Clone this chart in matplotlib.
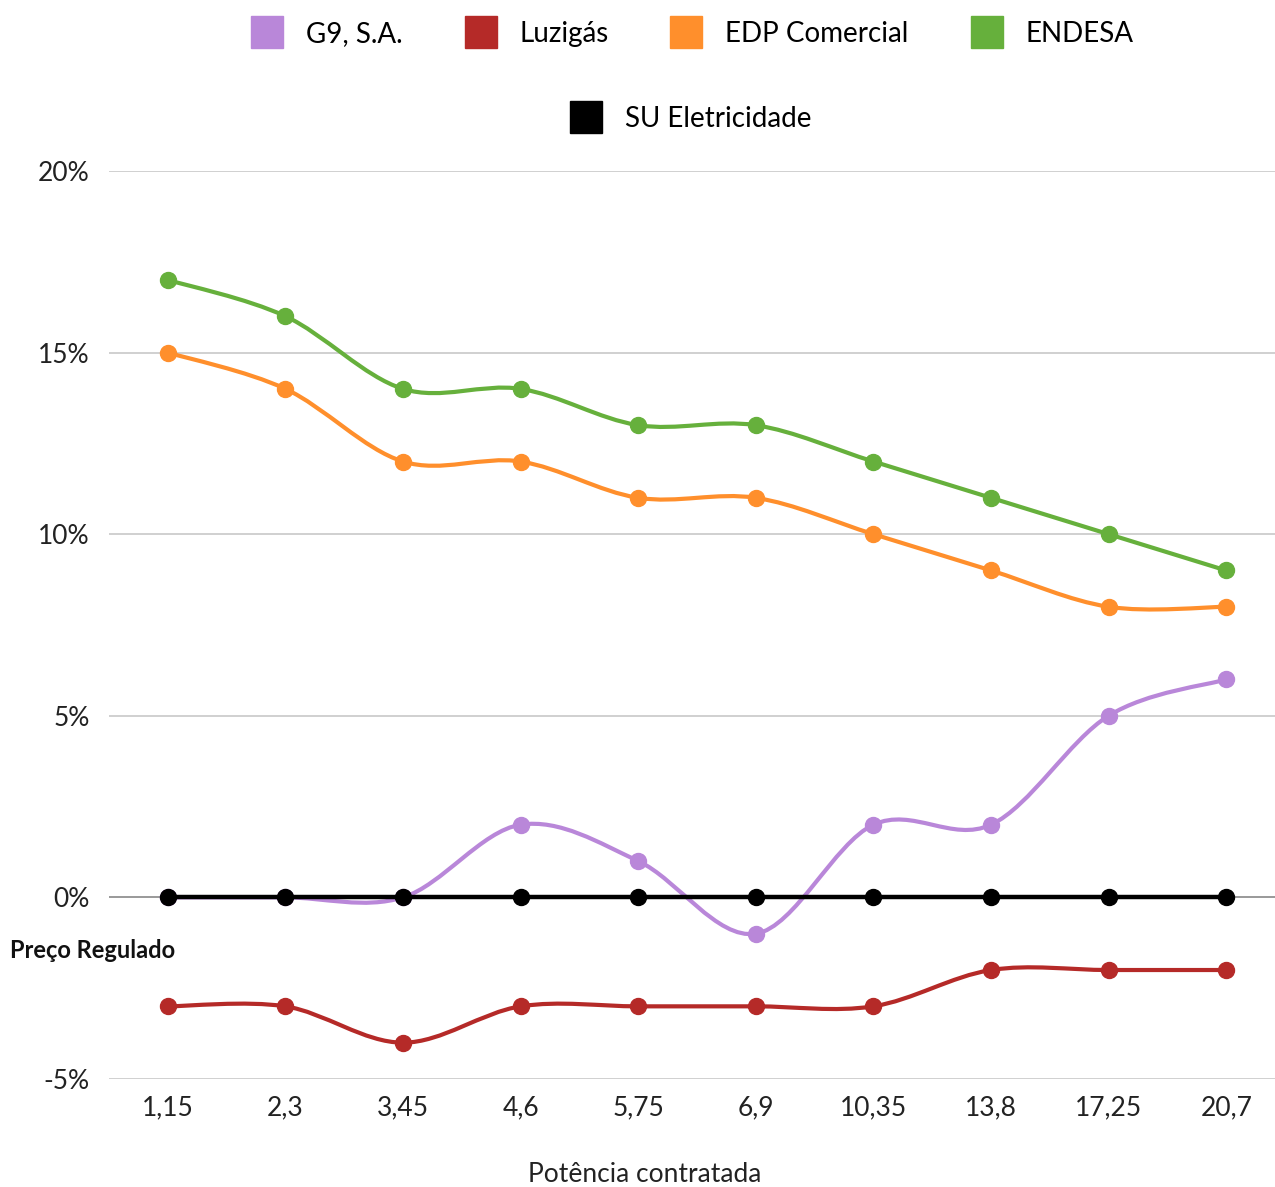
import numpy as np
import matplotlib.pyplot as plt
from matplotlib.path import Path
from matplotlib.patches import PathPatch
from matplotlib.lines import Line2D

plt.rcParams['font.family'] = ['Lato', 'DejaVu Sans']

# data
potencia = ['1,15', '2,3', '3,45', '4,6', '5,75', '6,9', '10,35', '13,8', '17,25', '20,7']
g9 = [0, 0, 0, 2, 1, -1, 2, 2, 5, 6]
luzigas = [-3, -3, -4, -3, -3, -3, -3, -2, -2, -2]
edp = [15, 14, 12, 12, 11, 11, 10, 9, 8, 8]
endesa = [17, 16, 14, 14, 13, 13, 12, 11, 10, 9]
su = [0, 0, 0, 0, 0, 0, 0, 0, 0, 0]

series = [
    ('G9, S.A.', g9, '#b987d9'),
    ('Luzigás', luzigas, '#b52a28'),
    ('EDP Comercial', edp, '#ff8f2c'),
    ('ENDESA', endesa, '#66b03c'),
]


def smooth_path(xs, ys, s=1 / 6):
    # catmull-rom style bezier through the points
    pts = np.column_stack([xs, ys]).astype(float)
    n = len(pts)
    verts = [pts[0]]
    codes = [Path.MOVETO]
    for i in range(n - 1):
        p0 = pts[i - 1] if i > 0 else pts[i]
        p1 = pts[i]
        p2 = pts[i + 1]
        p3 = pts[i + 2] if i + 2 < n else pts[i + 1]
        c1 = p1 + (p2 - p0) * s
        c2 = p2 - (p3 - p1) * s
        verts += [c1, c2, p2]
        codes += [Path.CURVE4] * 3
    return Path(verts, codes)


fig = plt.figure(figsize=(12.75, 11.87), dpi=100)
ax = fig.add_axes([109 / 1275, 0.091, 1176 / 1275, 0.765])

x = np.arange(len(potencia))
for name, vals, col in series:
    ax.add_patch(PathPatch(smooth_path(x, vals), fill=False, edgecolor=col,
                           linewidth=3, capstyle='round', zorder=3))
    ax.plot(x, vals, 'o', color=col, markersize=11.5, zorder=4)

ax.plot(x, su, '-o', color='black', linewidth=3.2, markersize=11.5, zorder=5)

ax.set_xlim(-0.5, len(potencia) - 0.5)
ax.set_ylim(-5, 20)
ax.set_yticks([-5, 0, 5, 10, 15, 20])
ax.set_yticklabels(['-5%', '0%', '5%', '10%', '15%', '20%'])
ax.set_xticks(x)
ax.set_xticklabels(potencia)
ax.tick_params(length=0, labelsize=19, colors='#222222')
ax.tick_params(axis='y', pad=14)
ax.tick_params(axis='x', pad=12)
for sp in ax.spines.values():
    sp.set_visible(False)
for v in [-5, 5, 10, 15, 20]:
    ax.axhline(v, color='#c8c8c8', linewidth=1.2, zorder=1)
ax.axhline(0, color='#888888', linewidth=1.2, zorder=1)

fig.text(645 / 1275, 1 - 1174 / 1187, 'Potência contratada', fontsize=19,
         color='#222222', ha='center', va='center')
fig.text(10 / 1275, 1 - 951 / 1187, 'Preço Regulado', fontsize=17, fontweight='bold',
         va='center', ha='left', color='#111111')

# legend
h1 = [Line2D([], [], marker='s', linestyle='none', color=c, markersize=23) for _, _, c in series]
fig.legend(h1, [n for n, _, _ in series], loc='center', ncol=4,
           bbox_to_anchor=(692 / 1275, 1 - 34 / 1187), frameon=False,
           fontsize=20, handlelength=1.2, handletextpad=0.8, columnspacing=2.2)
h2 = [Line2D([], [], marker='s', linestyle='none', color='black', markersize=23)]
fig.legend(h2, ['SU Eletricidade'], loc='center', bbox_to_anchor=(690 / 1275, 1 - 119 / 1187),
           frameon=False, fontsize=20, handlelength=1.2, handletextpad=0.8)

plt.savefig('out.png', dpi=100)
